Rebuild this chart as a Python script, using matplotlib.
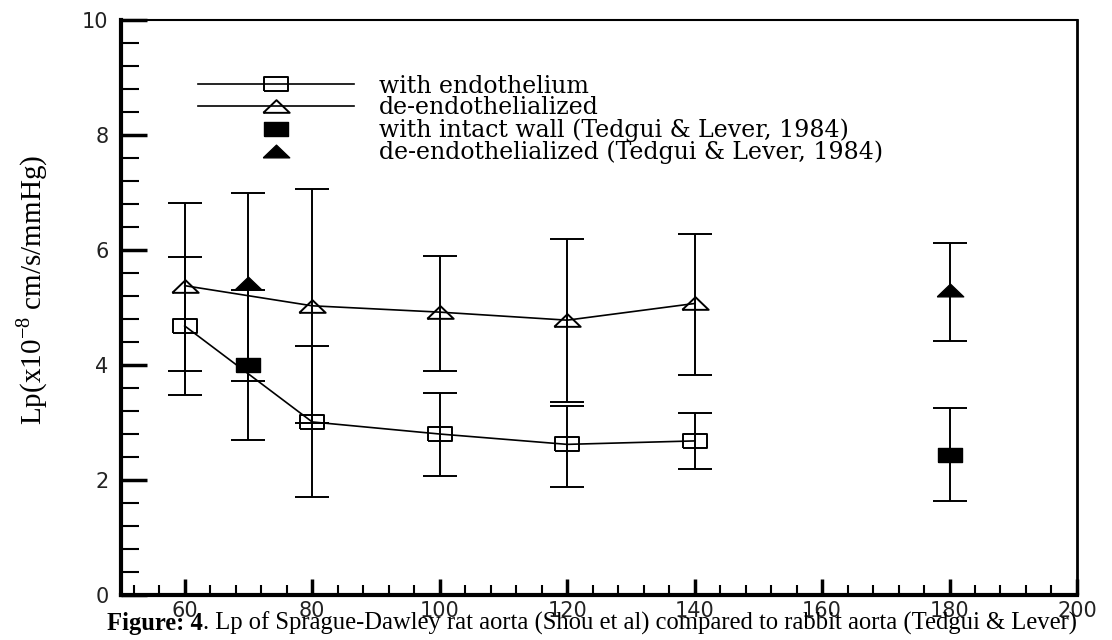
import numpy as np
import matplotlib
matplotlib.use('Agg')
import matplotlib.pyplot as plt
from matplotlib.lines import Line2D
from matplotlib.ticker import MultipleLocator

plt.rcParams['mathtext.fontset'] = 'custom'
plt.rcParams['mathtext.rm'] = 'Liberation Serif'

# Shou et al, rat aorta
pressure = np.array([60, 80, 100, 120, 140])
lp_endo = np.array([4.68, 3.01, 2.80, 2.62, 2.68])
lp_endo_lo = np.array([3.48, 1.70, 2.07, 1.88, 2.19])
lp_endo_hi = np.array([5.88, 4.33, 3.51, 3.29, 3.17])

lp_deendo = np.array([5.38, 5.03, 4.92, 4.78, 5.07])
lp_deendo_lo = np.array([3.90, 3.00, 3.90, 3.35, 3.83])
lp_deendo_hi = np.array([6.82, 7.06, 5.90, 6.20, 6.27])

# Tedgui & Lever 1984, rabbit aorta
pressure_tl = np.array([70, 180])
lp_intact = np.array([4.00, 2.43])
lp_intact_lo = np.array([2.70, 1.64])
lp_intact_hi = np.array([5.30, 3.25])

lp_tl_deendo = np.array([5.43, 5.30])
lp_tl_deendo_lo = np.array([3.72, 4.42])
lp_tl_deendo_hi = np.array([6.99, 6.13])

labels = ['with endothelium', 'de-endothelialized',
          'with intact wall (Tedgui & Lever, 1984)',
          'de-endothelialized (Tedgui & Lever, 1984)']

# flattened markers
rect = [(-1, -0.62), (1, -0.62), (1, 0.62), (-1, 0.62), (-1, -0.62)]
tri = [(-1, -0.48), (1, -0.48), (0, 0.48), (-1, -0.48)]

fig = plt.figure(figsize=(11.12, 6.4), dpi=100)
ax = fig.add_axes([0.1088, 0.0703, 0.8597, 0.8984])

def bars(x, y, lo, hi):
    ax.errorbar(x, y, yerr=[y - lo, hi - y], fmt='none', ecolor='k',
                elinewidth=1.4, capsize=12, capthick=1.4, zorder=2)

bars(pressure, lp_endo, lp_endo_lo, lp_endo_hi)
bars(pressure, lp_deendo, lp_deendo_lo, lp_deendo_hi)
bars(pressure_tl, lp_intact, lp_intact_lo, lp_intact_hi)
bars(pressure_tl, lp_tl_deendo, lp_tl_deendo_lo, lp_tl_deendo_hi)

ax.plot(pressure, lp_endo, color='k', lw=1.2, marker=rect, ms=17,
        mfc='none', mec='k', mew=1.4, zorder=3)
ax.plot(pressure, lp_deendo, color='k', lw=1.2, marker=tri, ms=19,
        mfc='none', mec='k', mew=1.4, zorder=3)
ax.plot(pressure_tl, lp_intact, ls='none', marker=rect, ms=17,
        mfc='k', mec='k', zorder=3)
ax.plot(pressure_tl, lp_tl_deendo, ls='none', marker=tri, ms=19,
        mfc='k', mec='k', zorder=3)

ax.set_xlim(50, 200)
ax.set_ylim(0, 10)
ax.xaxis.set_major_locator(MultipleLocator(20))
ax.xaxis.set_minor_locator(MultipleLocator(4))
ax.yaxis.set_major_locator(MultipleLocator(2))
ax.yaxis.set_minor_locator(MultipleLocator(0.4))

ax.tick_params(axis='y', which='major', direction='in', length=19, width=2.5,
               pad=9, labelsize=15)
ax.tick_params(axis='y', which='minor', direction='in', length=13, width=1.5)
ax.tick_params(axis='x', which='major', direction='in', length=11.5, width=2.5,
               pad=4, labelsize=15)
ax.tick_params(axis='x', which='minor', direction='in', length=7, width=1.5)
for lab in ax.get_xticklabels() + ax.get_yticklabels():
    lab.set_color('#222222')

ax.spines['left'].set_linewidth(3)
ax.spines['bottom'].set_linewidth(3)
ax.spines['top'].set_linewidth(1.5)
ax.spines['right'].set_linewidth(2)

ax.set_ylabel(r'Lp(x10$^{\mathrm{-8}}$ cm/s/mmHg)', family='Liberation Serif',
              fontsize=21)
ax.yaxis.set_label_coords(-0.074, 0.53)

handles = [
    Line2D([], [], color='k', lw=1.2, marker=rect, ms=17, mfc='none', mec='k', mew=1.4),
    Line2D([], [], color='k', lw=1.2, marker=tri, ms=19, mfc='none', mec='k', mew=1.4),
    Line2D([], [], ls='none', marker=rect, ms=17, mfc='k', mec='k'),
    Line2D([], [], ls='none', marker=tri, ms=19, mfc='k', mec='k'),
]
ax.legend(handles, labels, loc='upper left', bbox_to_anchor=(0.0805, 0.905),
          frameon=False, numpoints=1, borderpad=0, borderaxespad=0,
          handlelength=6.6, handletextpad=1.05, labelspacing=-0.05,
          prop={'family': 'DejaVu Serif', 'size': 17})

# caption under the axes
cap1 = fig.text(0.096, 0.0156, 'Figure: 4', family='Liberation Serif',
                weight='bold', fontsize=17.7, va='baseline')
ax.annotate('. Lp of Sprague-Dawley rat aorta (Shou et al) compared to rabbit aorta (Tedgui & Lever)',
            xy=(1, 0), xycoords=cap1, va='bottom', ha='left',
            family='Liberation Serif', fontsize=17.7, annotation_clip=False)

fig.savefig('out.png', dpi=100)
